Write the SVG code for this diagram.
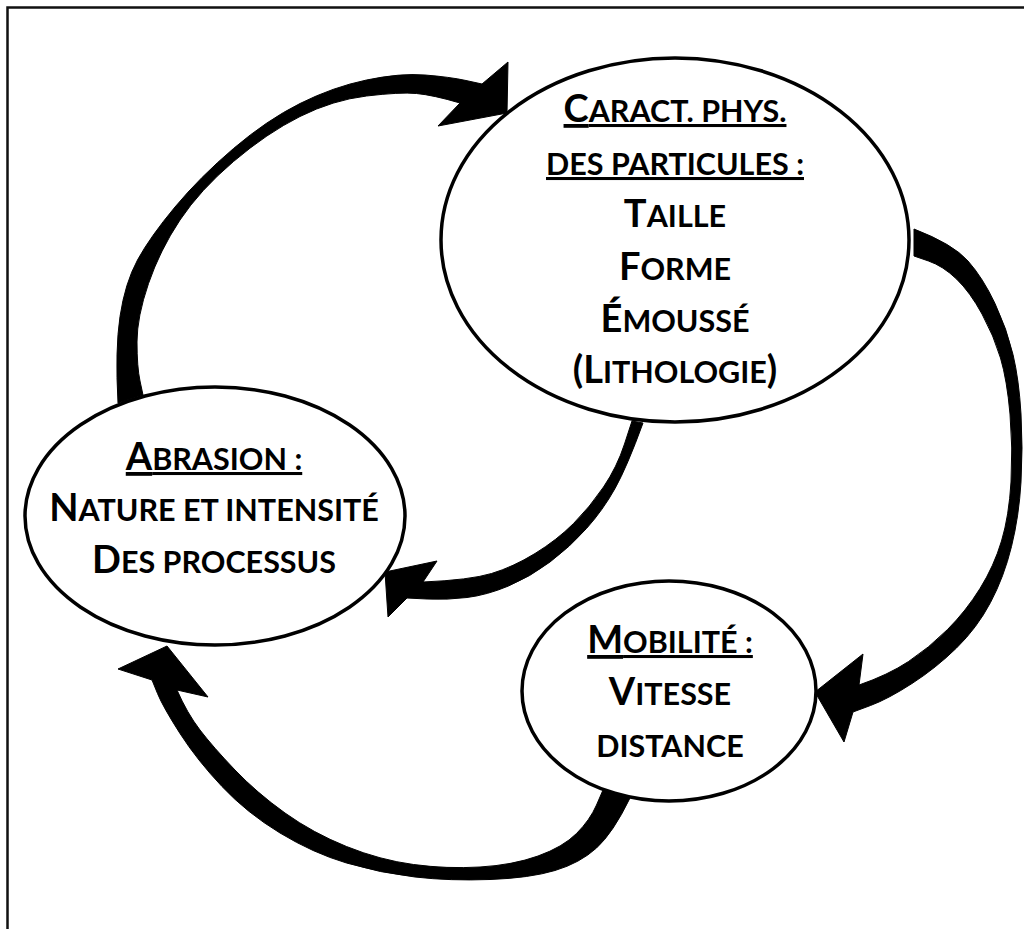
<svg xmlns="http://www.w3.org/2000/svg" width="1024" height="929" viewBox="0 0 1024 929">
<style>
.bg{fill:#fff}
.frame{fill:none;stroke:#111;stroke-width:2.5}
.node{fill:#fff;stroke:#000;stroke-width:3.5}
.t{font-family:Lato,"Liberation Sans",sans-serif;font-weight:bold;font-size:38px;fill:#000;text-anchor:middle}
.s{font-size:30.5px}
.u{text-decoration:underline}
.arrow{fill:#000;stroke:#000;stroke-width:1;stroke-linejoin:round}
</style>
<rect class="bg" x="0" y="0" width="1024" height="929"/>
<rect class="frame" x="7.5" y="7.5" width="1030" height="940"/>
<g id="connectors">
<path id="arrow-abrasion-caract" class="arrow" d="M 118,403 Q 115,350 120,316.5 Q 125,283 137.5,260 Q 150,237 175,207 Q 200,177 233.5,148.5 Q 267,120 300,103.5 Q 333,87 366.5,80 Q 400,73 425,75 Q 450,77 466,80.5 L 482,84 L 508,62 L 507,113 L 438,126 L 460,103 Q 433,95 416.5,93.5 Q 400,92 366.5,96 Q 333,100 300,116.5 Q 267,133 233.5,161.5 Q 200,190 180,220 Q 160,250 148.5,283.5 Q 137,317 137,342 Q 137,367 140,381 L 143,395 Z"/>
<path id="arrow-caract-mobilite" class="arrow" d="M 914,229 Q 953,244 968,261 Q 983,278 995,303.5 Q 1007,329 1013,354.5 Q 1019,380 1021,414 Q 1023,448 1021,482 Q 1019,516 1011.5,546.5 Q 1004,577 990.5,602.5 Q 977,628 956.5,648 Q 936,668 912,683.5 Q 888,699 870.5,705.5 L 853,712 L 844,742 L 815,692 L 863,654 L 859,685 Q 888,675 908.5,661.5 Q 929,648 947.5,629.5 Q 966,611 980,588.5 Q 994,566 1001.5,541 Q 1009,516 1011,482 Q 1013,448 1010,414 Q 1007,380 1000.5,358 Q 994,336 982,314 Q 970,292 956.5,279 Q 943,266 928.5,261 L 914,256 Z"/>
<path id="arrow-caract-abrasion" class="arrow" d="M 643,423 Q 627,467 615,488.5 Q 603,510 586.5,528.5 Q 570,547 550,562 Q 530,577 508.5,586 Q 487,595 467,597.5 Q 447,600 427,599 L 407,598 L 388,617 L 385,572 L 437,561 L 423,582 Q 470,580 491.5,573.5 Q 513,567 535,553.5 Q 557,540 573.5,523.5 Q 590,507 603.5,487 Q 617,467 624.5,444 L 632,421 Z"/>
<path id="arrow-mobilite-abrasion" class="arrow" d="M 630,798 Q 613,833 596.5,848 Q 580,863 555,870.5 Q 530,878 490,879.5 Q 450,881 415,877 Q 380,873 346.5,863 Q 313,853 280,833 Q 247,813 222,786.5 Q 197,760 180,733.5 Q 163,707 157.5,693.5 L 152,680 L 118,669 L 167,646 L 208,697 L 177,690 Q 187,713 200,730 Q 213,747 235,770 Q 257,793 285,813 Q 313,833 346.5,846.5 Q 380,860 413.5,864.5 Q 447,869 480,867 Q 513,865 538,856 Q 563,847 576.5,833.5 Q 590,820 596.5,805 L 603,790 Z"/>
</g>
<g id="node-caract">
<ellipse class="node" cx="675" cy="240" rx="234" ry="182"/>
<text class="t u" x="675" y="122">C<tspan class="s">ARACT. PHYS.</tspan></text>
<text class="t u" x="675" y="175"><tspan class="s">DES PARTICULES :</tspan></text>
<text class="t" x="675" y="227">T<tspan class="s">AILLE</tspan></text>
<text class="t" x="675" y="280">F<tspan class="s">ORME</tspan></text>
<text class="t" x="675" y="332">É<tspan class="s">MOUSSÉ</tspan></text>
<text class="t" x="675" y="383">(L<tspan class="s">ITHOLOGIE</tspan>)</text>
</g>
<g id="node-abrasion">
<ellipse class="node" cx="215" cy="516" rx="190" ry="129"/>
<text class="t u" x="214" y="470">A<tspan class="s">BRASION :</tspan></text>
<text class="t" x="214" y="521">N<tspan class="s">ATURE ET INTENSITÉ</tspan></text>
<text class="t" x="214" y="573">D<tspan class="s">ES PROCESSUS</tspan></text>
</g>
<g id="node-mobilite">
<ellipse class="node" cx="669" cy="691" rx="147" ry="110"/>
<text class="t u" x="670" y="653">M<tspan class="s">OBILITÉ :</tspan></text>
<text class="t" x="670" y="705">V<tspan class="s">ITESSE</tspan></text>
<text class="t" x="670" y="757"><tspan class="s">DISTANCE</tspan></text>
</g>
</svg>
